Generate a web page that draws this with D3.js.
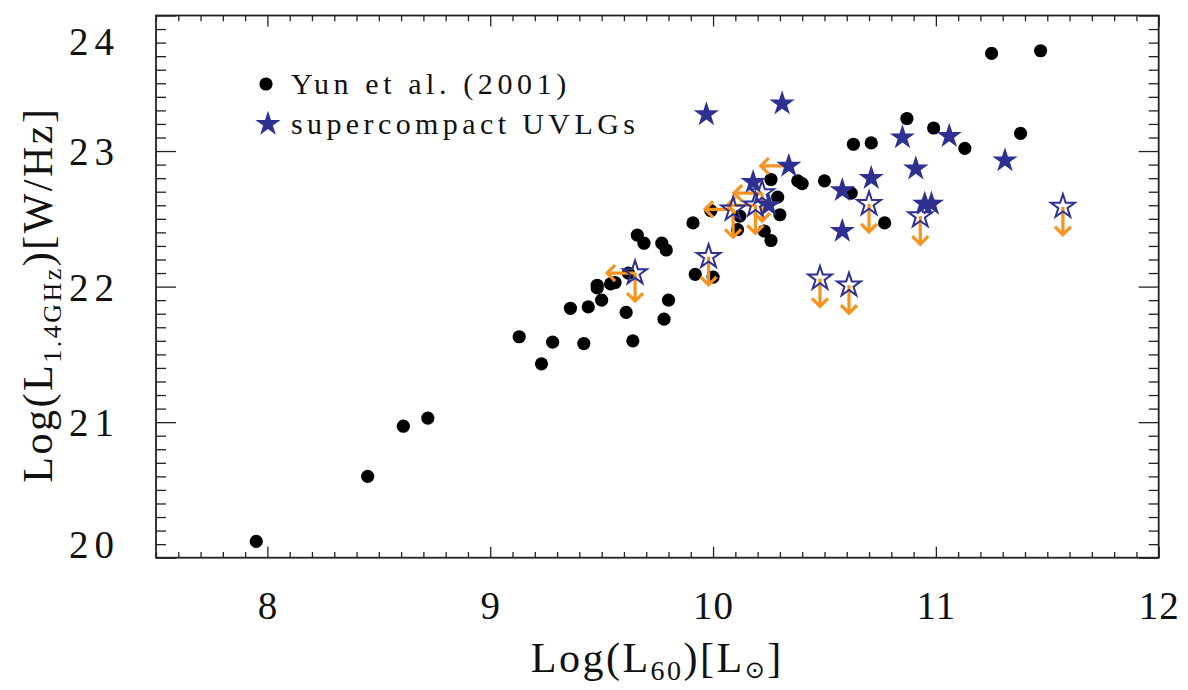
<!DOCTYPE html>
<html><head><meta charset="utf-8">
<script src="https://cdn.jsdelivr.net/npm/d3@7"></script>
<style>
html,body{margin:0;padding:0;background:#fff;}
svg text{font-family:"Liberation Serif","DejaVu Serif",serif;fill:#111;}
</style></head>
<body><svg id="c" width="1188" height="690"></svg>
<script>
// ---- data ----
const yunX = [7.95,8.45,8.61,8.72,9.13,9.23,9.28,9.36,9.42,9.44,9.48,9.48,9.50,9.54,9.56,9.61,9.64,9.62,9.66,9.69,9.77,9.79,9.80,9.78,9.91,9.92,10.00,9.99,10.12,10.11,10.23,10.26,10.26,10.29,10.30,10.38,10.40,10.50,10.62,10.63,10.71,10.77,10.87,10.99,11.13,11.25,11.38,11.47];
const yunY = [20.12,20.60,20.97,21.03,21.63,21.43,21.59,21.84,21.58,21.85,22.01,21.99,21.90,22.02,22.03,21.81,21.60,22.10,22.38,22.32,22.32,22.27,21.90,21.76,22.47,22.09,22.07,22.56,22.52,22.42,22.41,22.34,22.79,22.66,22.53,22.78,22.76,22.78,22.69,23.05,23.06,22.47,23.24,23.17,23.02,23.72,23.13,23.74];
// supercompact UVLGs: detections
const uvlgX = [9.97,10.31,10.34,10.18,10.25,10.58,10.58,10.71,10.85,10.91,10.95,10.98,11.06,11.31];
const uvlgY = [23.27,23.35,22.89,22.77,22.60,22.71,22.41,22.80,23.10,22.87,22.61,22.61,23.11,22.93];
const uvlgXlimit = [false,false,true,false,false,false,false,false,false,false,false,false,false,false];
// supercompact UVLGs: radio upper limits
const limX = [9.65,9.98,10.09,10.22,10.19,10.48,10.61,10.70,10.93,11.57];
const limY = [22.10,22.22,22.57,22.69,22.60,22.06,22.01,22.61,22.52,22.59];
const limXlimit = [true,false,true,true,true,false,false,false,false,false];
const xTicks = [8,9,10,11,12];
const yTicks = [20,21,22,23,24];
const legendLabels = ["Yun et al. (2001)","supercompact UVLGs"];

// ---- layout ----
const L=156, R=1158.7, T=15.5, B=557.7;
const navy="#2e3192", orange="#f7931e";
const svg=d3.select("#c");
const x=d3.scaleLinear().domain([7.5,12]).range([L,R]);
const y=d3.scaleLinear().domain([20,24]).range([B,T]);

const minorX=d3.range(75,121).map(v=>v/10).filter(v=>!xTicks.includes(v));
const minorY=d3.range(200,241).map(v=>v/10).filter(v=>!yTicks.includes(v));
const axc="#222";
function styleAxis(g){g.select(".domain").remove();g.selectAll("line").attr("stroke",axc).attr("stroke-width",1.3);}
// bottom
svg.append("g").attr("transform",`translate(0,${B})`).call(d3.axisBottom(x).tickValues(minorX).tickSize(-5.7).tickFormat("")).call(styleAxis);
svg.append("g").attr("transform",`translate(0,${B})`).call(d3.axisBottom(x).tickValues(xTicks).tickSize(-11).tickPadding(28).tickFormat(d3.format("d"))).call(styleAxis)
  .selectAll("text").attr("font-size",39).attr("letter-spacing",1).attr("dy","0.85em");
// top
svg.append("g").attr("transform",`translate(0,${T})`).call(d3.axisTop(x).tickValues(minorX).tickSize(-5.7).tickFormat("")).call(styleAxis);
svg.append("g").attr("transform",`translate(0,${T})`).call(d3.axisTop(x).tickValues(xTicks).tickSize(-11).tickFormat("")).call(styleAxis);
// left
svg.append("g").attr("transform",`translate(${L},0)`).call(d3.axisLeft(y).tickValues(minorY).tickSize(-10).tickFormat("")).call(styleAxis);
svg.append("g").attr("transform",`translate(${L},0)`).call(d3.axisLeft(y).tickValues(yTicks).tickSize(-20).tickPadding(36).tickFormat(d3.format("d"))).call(styleAxis)
  .selectAll("text").attr("font-size",39).attr("letter-spacing",6)
  .attr("dy",d=>d===24?"1.0em":d===20?"0.0em":"0.35em");
// right
svg.append("g").attr("transform",`translate(${R},0)`).call(d3.axisRight(y).tickValues(minorY).tickSize(-10).tickFormat("")).call(styleAxis);
svg.append("g").attr("transform",`translate(${R},0)`).call(d3.axisRight(y).tickValues(yTicks).tickSize(-20).tickFormat("")).call(styleAxis);
// frame
svg.append("rect").attr("x",L).attr("y",T).attr("width",R-L).attr("height",B-T).attr("fill","none").attr("stroke",axc).attr("stroke-width",1.8);

// axis titles
const xt=svg.append("text").attr("x",(L+R)/2).attr("y",672).attr("text-anchor","middle").attr("font-size",42).attr("letter-spacing",2.5);
xt.append("tspan").text("Log(L");
xt.append("tspan").text("60").attr("font-size",28).attr("dy",8);
xt.append("tspan").text(")[L").attr("dy",-8);
xt.append("tspan").text("\u2299").attr("font-size",24).attr("dy",6).attr("font-family","DejaVu Sans");
xt.append("tspan").text("]").attr("dy",-6);

const yt=svg.append("text").attr("transform",`translate(52,${(T+B)/2+8}) rotate(-90)`).attr("text-anchor","middle").attr("font-size",42).attr("letter-spacing",2.5);
yt.append("tspan").text("Log(L");
yt.append("tspan").text("1.4GHz").attr("font-size",26).attr("dy",9);
yt.append("tspan").text(")[W/Hz]").attr("dy",-9);

const star=r=>d3.symbol().type(d3.symbolStar).size(r*r/0.8908130915292852)();
const AL=28, AH=8;
function arrowDown(g,px,py){g.append("path").attr("d",`M${px},${py}L${px},${py+AL}M${px-AH},${py+AL-AH}L${px},${py+AL}L${px+AH},${py+AL-AH}`);}
function arrowLeft(g,px,py){g.append("path").attr("d",`M${px},${py}L${px-AL},${py}M${px-AL+AH},${py-AH}L${px-AL},${py}L${px-AL+AH},${py+AH}`);}

// Yun dots
svg.append("g").selectAll("circle").data(yunX).join("circle")
  .attr("cx",(d,i)=>x(d)).attr("cy",(d,i)=>y(yunY[i])).attr("r",6.6).attr("fill","#000");

// arrows
const ag=svg.append("g").attr("stroke",orange).attr("stroke-width",3.2).attr("fill","none").attr("stroke-linejoin","miter");
limX.forEach((v,i)=>{const px=x(v),py=y(limY[i]);arrowDown(ag,px,py);if(limXlimit[i])arrowLeft(ag,px,py);});
uvlgX.forEach((v,i)=>{if(uvlgXlimit[i])arrowLeft(ag,x(v),y(uvlgY[i]));});

// hollow stars (radio upper limits)
svg.append("g").selectAll("path").data(limX).join("path")
  .attr("d",star(12.5)).attr("transform",(d,i)=>`translate(${x(d)},${y(limY[i])})`)
  .attr("fill","none").attr("stroke",navy).attr("stroke-width",2);
// filled stars
svg.append("g").selectAll("path").data(uvlgX).join("path")
  .attr("d",star(13.3)).attr("transform",(d,i)=>`translate(${x(d)},${y(uvlgY[i])})`)
  .attr("fill",navy);

// legend
const lg=svg.append("g");
lg.append("circle").attr("cx",266).attr("cy",84).attr("r",6.6).attr("fill","#000");
lg.append("path").attr("d",star(13.3)).attr("transform","translate(268,124)").attr("fill",navy);
lg.append("text").attr("x",291).attr("y",94).attr("font-size",30).attr("letter-spacing",4.6).text(legendLabels[0]);
lg.append("text").attr("x",291).attr("y",134).attr("font-size",30).attr("letter-spacing",4.4).text(legendLabels[1]);
</script></body></html>
